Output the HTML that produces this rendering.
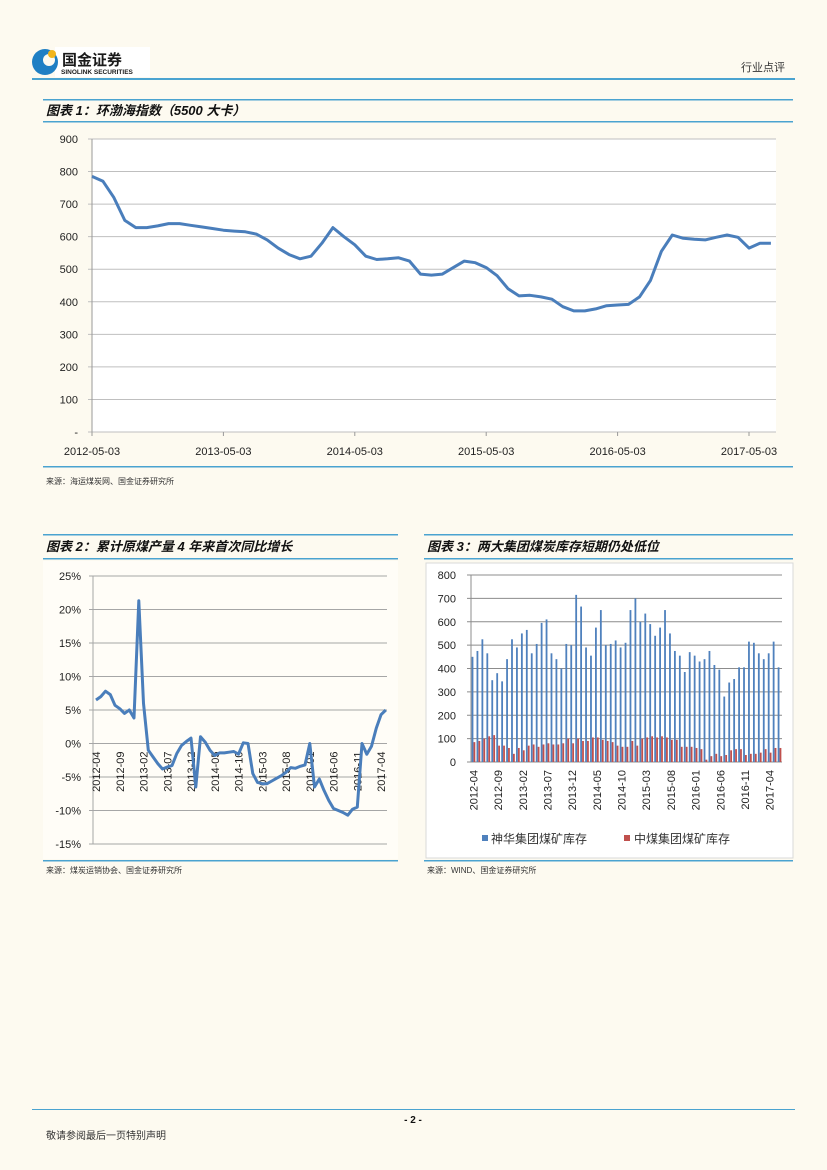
<!DOCTYPE html>
<html><head><meta charset="utf-8">
<style>
body{margin:0;background:#fdfaf0;}
#page{position:relative;width:827px;height:1170px;overflow:hidden;background:#fdfaf0;font-family:"Liberation Sans","Noto Sans CJK SC",sans-serif;}
svg text{font-family:"Liberation Sans","Noto Sans CJK SC",sans-serif;}
</style></head>
<body>
<div id="page">
<svg id="svg" width="827" height="1170" xmlns="http://www.w3.org/2000/svg">
  <!-- header -->
  <g>
    <rect x="55" y="47" width="95" height="30" fill="#fff"/>
    <circle cx="45" cy="62" r="13" fill="#1f7fc4"/>
    <circle cx="49" cy="60" r="6" fill="#fdfaf0"/>
    <circle cx="52" cy="54" r="4" fill="#f2b51c"/>
    <text x="62" y="65" font-size="15" font-weight="bold" fill="#1a1a1a">国金证券</text>
    <text x="61" y="74" font-size="6.5" font-weight="bold" fill="#1a1a1a">SINOLINK SECURITIES</text>
  </g>
  <text x="785" y="71" font-size="11" text-anchor="end" fill="#333">行业点评</text>
  <rect x="32" y="78" width="763" height="2" fill="#4aa3d0"/>

  <!-- chart1 title -->
  <rect x="43" y="99" width="750" height="1.5" fill="#4aa3d0"/>
  <text x="46" y="115" font-size="13" font-weight="bold" font-style="italic" fill="#111">图表 1：环渤海指数（5500 大卡）</text>
  <rect x="43" y="121" width="750" height="1.5" fill="#4aa3d0"/>
  <g id="c1"></g>
  <rect x="43" y="466" width="750" height="1.5" fill="#4aa3d0"/>
  <text x="46" y="484" font-size="8" fill="#333">来源：海运煤炭网、国金证券研究所</text>

  <!-- chart2 -->
  <rect x="43" y="534" width="355" height="1.5" fill="#4aa3d0"/>
  <text x="46" y="551" font-size="13" font-weight="bold" font-style="italic" fill="#111">图表 2：累计原煤产量 4 年来首次同比增长</text>
  <rect x="43" y="558" width="355" height="1.5" fill="#4aa3d0"/>
  <g id="c2"></g>
  <rect x="43" y="860" width="355" height="1.5" fill="#4aa3d0"/>
  <text x="46" y="873" font-size="8" fill="#333">来源：煤炭运销协会、国金证券研究所</text>

  <!-- chart3 -->
  <rect x="424" y="534" width="369" height="1.5" fill="#4aa3d0"/>
  <text x="427" y="551" font-size="13" font-weight="bold" font-style="italic" fill="#111">图表 3：两大集团煤炭库存短期仍处低位</text>
  <rect x="424" y="558" width="369" height="1.5" fill="#4aa3d0"/>
  <g id="c3"></g>
  <rect x="424" y="860" width="369" height="1.5" fill="#4aa3d0"/>
  <text x="427" y="873" font-size="8" fill="#333">来源：WIND、国金证券研究所</text>

  <!-- footer -->
  <rect x="32" y="1109" width="763" height="1" fill="#4aa3d0"/>
  <text x="413" y="1123" font-size="10" font-weight="bold" text-anchor="middle" fill="#111">- 2 -</text>
  <text x="46" y="1139" font-size="10" fill="#333">敬请参阅最后一页特别声明</text>
</svg>
</div>
<script>
var NS="http://www.w3.org/2000/svg";
function mk(p,t,a){var e=document.createElementNS(NS,t);for(var k in a)e.setAttribute(k,a[k]);p.appendChild(e);return e;}

// ---- chart 1 data (monthly, from 2012-05) ----
var c1Values=[785,770,720,650,628,628,633,640,640,635,630,625,620,617,615,608,590,565,545,532,540,580,628,600,575,540,530,532,535,525,485,482,485,505,525,520,505,480,440,418,420,415,408,385,372,372,378,388,390,392,415,465,555,605,595,592,590,598,605,598,565,580,580];
var c1XLabels=["2012-05-03","2013-05-03","2014-05-03","2015-05-03","2016-05-03","2017-05-03"];
var c1YTicks=[0,100,200,300,400,500,600,700,800,900];
var c1YLabels=["-","100","200","300","400","500","600","700","800","900"];
(function(){
 var g=document.getElementById('c1');
 var L=92,R=776,T=139,B=432;
 function y(v){return B-(v/900)*(B-T);}
 function x(i){return L+i*(657/60);}
 mk(g,'rect',{x:43,y:127,width:750,height:338,fill:'#fdfaf0'});
 mk(g,'rect',{x:L,y:T,width:R-L,height:B-T,fill:'#fff'});
 c1YTicks.forEach(function(v,i){
  var gl=mk(g,'line',{x1:L-4,x2:R,y1:y(v),y2:y(v),stroke:'#bfbfbf','stroke-width':1});
  
  
  var t=mk(g,'text',{x:78,y:y(v)+4,'font-size':11,'text-anchor':'end',fill:'#222'});t.textContent=c1YLabels[i];
  
  
 });
 mk(g,'line',{x1:L,x2:L,y1:T,y2:B+4,stroke:'#999'});
 c1XLabels.forEach(function(s,i){
  var xx=x(i*12);
  mk(g,'line',{x1:xx,x2:xx,y1:B,y2:B+4,stroke:'#999'});
  var t=mk(g,'text',{x:xx,y:455,'font-size':11,'text-anchor':'middle',fill:'#222'});t.textContent=s;
  
  
 });
 var d=c1Values.map(function(v,i){return (i?'L':'M')+x(i).toFixed(1)+' '+y(v).toFixed(1);}).join(' ');
 var p=mk(g,'path',{d:d,fill:'none',stroke:'#4a7ebb','stroke-width':3,'stroke-linejoin':'round'});
 
 
})();

// ---- chart 2 data (monthly %, from 2012-04) ----
var c2Values=[6.5,7,7.8,7.3,5.7,5.2,4.5,5,3.8,21.3,6,-1,-2,-3,-3.8,-3.5,-3.3,-1.5,-0.3,0.3,0.8,-6.5,1,0.2,-1,-1.8,-1.4,-1.4,-1.3,-1.2,-1.6,0.1,0,-4.5,-5.8,-6,-6,-5.6,-5.2,-4.8,-4.3,-3.6,-3.7,-3.4,-3.2,0,-6.5,-5.3,-7,-8.5,-9.7,-10,-10.3,-10.7,-9.8,-9.5,0,-1.6,-0.4,2.3,4.3,5.0];
var c2XLabels=["2012-04","2012-09","2013-02","2013-07","2013-12","2014-05","2014-10","2015-03","2015-08","2016-01","2016-06","2016-11","2017-04"];
var c2YTicks=[-15,-10,-5,0,5,10,15,20,25];
(function(){
 var g=document.getElementById('c2');
 var L=93,R=387,T=576,B=844,step=4.75,x0=96;
 function y(v){return B-(v+15)/40*(B-T);}
 function x(i){return x0+i*step;}
 mk(g,'rect',{x:43,y:561,width:355,height:298,fill:'#fffdf7'});
 c2YTicks.forEach(function(v){
  var gl=mk(g,'line',{x1:L-4,x2:R,y1:y(v),y2:y(v),stroke:'#a6a6a6'});
  
  
  var t=mk(g,'text',{x:81,y:y(v)+4,'font-size':11,'text-anchor':'end',fill:'#222'});t.textContent=v+'%';
  
  
 });
 mk(g,'line',{x1:L,x2:L,y1:T,y2:B,stroke:'#a6a6a6'});
 c2XLabels.forEach(function(s,i){
  var xx=x(i*5)+4;
  var t=mk(g,'text',{x:0,y:0,'font-size':11,'text-anchor':'end',fill:'#222',transform:'translate('+xx+','+(y(0)+8)+') rotate(-90)'});t.textContent=s;
  
  
 });
 var d=c2Values.map(function(v,i){return (i?'L':'M')+x(i).toFixed(1)+' '+y(v).toFixed(1);}).join(' ');
 var p=mk(g,'path',{d:d,fill:'none',stroke:'#4a7ebb','stroke-width':3,'stroke-linejoin':'round'});
 
 
})();

// ---- chart 3 data (monthly, from 2012-04) ----
var c3Shenhua=[450,475,525,465,350,380,345,440,525,490,550,565,465,505,595,610,465,440,400,505,500,715,665,490,455,575,650,500,505,520,490,510,650,700,600,635,590,540,575,650,550,475,455,385,470,455,430,440,475,415,395,280,340,355,405,405,515,510,465,440,465,515,405];
var c3Zhongmei=[85,90,100,110,115,70,70,60,35,60,50,70,75,65,75,80,75,75,80,100,80,100,90,90,105,105,95,90,85,70,65,65,90,70,100,105,110,105,110,105,95,95,65,65,65,60,55,10,25,35,25,30,50,55,55,30,35,35,40,55,40,60,60];
var c3XLabels=["2012-04","2012-09","2013-02","2013-07","2013-12","2014-05","2014-10","2015-03","2015-08","2016-01","2016-06","2016-11","2017-04"];
var c3YTicks=[0,100,200,300,400,500,600,700,800];
(function(){
 var g=document.getElementById('c3');
 var L=471,R=782,T=575,B=762;
 var n=c3Shenhua.length,cw=(R-L)/n;
 function y(v){return B-v/800*(B-T);}
 function x(i){return L+i*cw;}
 mk(g,'rect',{x:426,y:563,width:367,height:295,fill:'#fff',stroke:'#d9d9d9'});
 c3YTicks.forEach(function(v){
  var gl=mk(g,'line',{x1:L-4,x2:R,y1:y(v),y2:y(v),stroke:'#8c8c8c'});
  
  
  var t=mk(g,'text',{x:456,y:y(v)+4,'font-size':11,'text-anchor':'end',fill:'#222'});t.textContent=v;
  
  
 });
 mk(g,'line',{x1:L,x2:L,y1:T,y2:B,stroke:'#8c8c8c'});
 for(var i=0;i<n;i++){
  var b=mk(g,'rect',{x:x(i)+0.6,y:y(c3Shenhua[i]),width:1.8,height:B-y(c3Shenhua[i]),fill:'#4f81bd'});
  
  
  var r=mk(g,'rect',{x:x(i)+2.5,y:y(c3Zhongmei[i]),width:1.8,height:B-y(c3Zhongmei[i]),fill:'#c0504d'});
  
  
 }
 c3XLabels.forEach(function(s,i){
  var xx=x(i*5)+cw/2+4;
  var t=mk(g,'text',{x:0,y:0,'font-size':11,'text-anchor':'end',fill:'#222',transform:'translate('+xx+',770) rotate(-90)'});t.textContent=s;
  
  
 });
 var lg=mk(g,'g',{});
 
 
 mk(lg,'rect',{x:482,y:835,width:6,height:6,fill:'#4f81bd'});
 var t1=mk(lg,'text',{x:491,y:843,'font-size':12,fill:'#333'});t1.textContent='神华集团煤矿库存';
 
 
 mk(lg,'rect',{x:624,y:835,width:6,height:6,fill:'#c0504d'});
 var t2=mk(lg,'text',{x:634,y:843,'font-size':12,fill:'#333'});t2.textContent='中煤集团煤矿库存';
 
 
})();
</script>
</body></html>
